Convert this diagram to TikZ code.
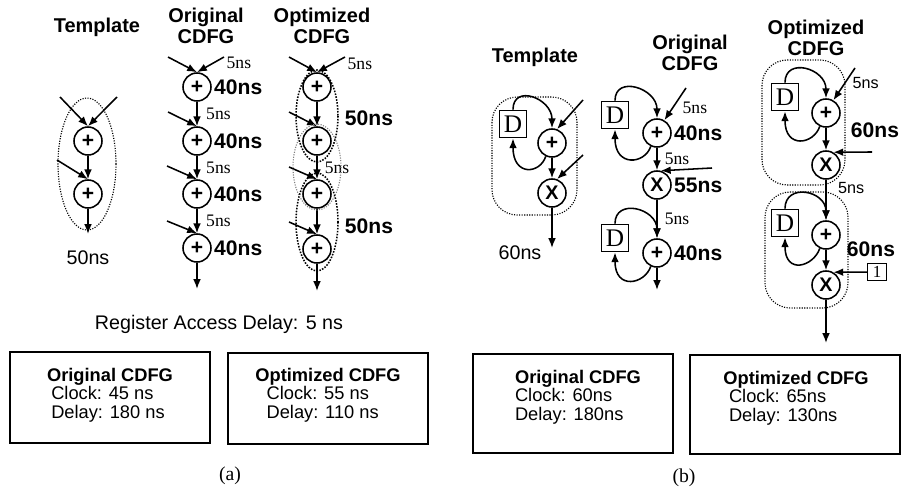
\documentclass[tikz,border=0pt]{standalone}
\usepackage{fontspec}
\setmainfont{Liberation Sans}
\newfontfamily\serifnum{Liberation Serif}
\usetikzlibrary{positioning}
\usetikzlibrary{arrows.meta}

\begin{document}
\begin{tikzpicture}[x=0.025cm, y=-0.025cm,
    adder/.style={draw, circle, line width=1.1pt, minimum size=0.7cm, inner sep=0pt, font=\bfseries\fontsize{15}{15}\selectfont},
    mult/.style={adder, font=\bfseries\fontsize{14}{14}\selectfont},
    reg/.style={draw, rectangle, line width=1.1pt, minimum size=0.68cm, inner sep=0pt, font=\serifnum\fontsize{18}{18}\selectfont},
    wire/.style={line width=1.1pt, -{Latex[length=7pt,width=5.5pt]}},
    group/.style={densely dotted, line width=0.8pt},
    title/.style={align=center, font=\bfseries\fontsize{14.2}{15}\selectfont},
    delay/.style={inner sep=0.5pt, font=\bfseries\fontsize{15}{15}\selectfont},
    plain/.style={font=\fontsize{14}{15}\selectfont},
    small/.style={inner sep=1pt, font=\fontsize{11.5}{12}\selectfont},
    regdelay/.style={inner sep=1pt, font=\serifnum\fontsize{12.5}{12}\selectfont},
    panel/.style={draw, line width=1.1pt, minimum width=5cm},
    stats/.style={align=left, font=\fontsize{13}{13.2}\selectfont},
    caption/.style={font=\serifnum\fontsize{14}{16}\selectfont}]

\useasboundingbox (0,0) rectangle (904,493);

% ---------- (a) chain of adders ----------
% template
\node[title] (tmpla) at (97,27) {Template};
\node[adder] (ta1) at (88,141) {+};
\node[adder] (ta2) at (88,194) {+};
\coordinate (ta1l) at (60,97);
\coordinate (ta1r) at (117,97);
\coordinate (ta2l) at (57,160);
\coordinate (taout) at (88,234);
\draw[wire] (ta1l) -- (ta1.north);
\draw[wire] (ta1r) -- (ta1.north);
\draw[wire] (ta2l) -- (ta2.north);
\draw[wire] (ta1) -- (ta2);
\draw[wire] (ta2) -- (taout);
\draw[group] (87,164) ellipse [x radius=29, y radius=66];
\node[plain] (tadelay) at (88,258) {50ns};

% original CDFG
\node[title] (origa) at (206,26) {Original\\CDFG};
\node[adder] (oa1) at (197,87) {+};
\node[adder] (oa2) at (197,141) {+};
\node[adder] (oa3) at (197,194) {+};
\node[adder] (oa4) at (197,248) {+};
\coordinate (oa1l) at (168,57);
\coordinate (oa1r) at (224,57);
\coordinate (oa2l) at (168,112);
\coordinate (oa3l) at (167,166);
\coordinate (oa4l) at (167,221);
\coordinate (oaout) at (197,289);
\draw[wire] (oa1l) -- (oa1.north);
\draw[wire] (oa1r) -- (oa1.north);
\node[regdelay, anchor=west] (oain) at (225,63) {5ns};
\foreach \n in {2,3,4}
    \draw[wire] (oa\n l) -- (oa\n.north);
\draw[wire] (oa1) -- node[regdelay, right=5pt] {5ns} (oa2);
\draw[wire] (oa2) -- node[regdelay, right=5pt] {5ns} (oa3);
\draw[wire] (oa3) -- node[regdelay, right=5pt] {5ns} (oa4);
\draw[wire] (oa4) -- (oaout);
\foreach \n in {1,...,4}
    \node[delay, right=1pt of oa\n] (oa\n t) {40ns};

% optimized CDFG
\node[title] (opta) at (322,26) {Optimized\\CDFG};
\node[adder] (pa1) at (317,87) {+};
\node[adder] (pa2) at (317,141) {+};
\node[adder] (pa3) at (317,194) {+};
\node[adder] (pa4) at (317,249) {+};
\coordinate (pa1l) at (289,57);
\coordinate (pa1r) at (345,57);
\coordinate (pa2l) at (289,112);
\coordinate (pa3l) at (289,167);
\coordinate (pa4l) at (289,222);
\coordinate (paout) at (317,291);
\draw[wire] (pa1l) -- (pa1.north);
\draw[wire] (pa1r) -- (pa1.north);
\node[regdelay, anchor=west] (pain) at (346,64) {5ns};
\foreach \n in {2,3,4}
    \draw[wire] (pa\n l) -- (pa\n.north);
\draw[wire] (pa1) -- (pa2);
\draw[wire] (pa2) -- node[regdelay, right=4pt] {5ns} (pa3);
\draw[wire] (pa3) -- (pa4);
\draw[wire] (pa4) -- (paout);
\draw[group, line width=1.1pt] (317,116) ellipse [x radius=21, y radius=46];
\draw[group, line width=1.1pt] (317,222) ellipse [x radius=21, y radius=49];
\draw[group, gray] (317,167) ellipse [x radius=24, y radius=43];
\node[delay, anchor=west] (pa12t) at (344,118) {50ns};
\node[delay, anchor=west] (pa34t) at (344,226) {50ns};

\node[plain] (regacc) at (219,324) {Register Access Delay: 5 ns};

\node[panel, minimum height=2.275cm] (boxoa) at (110,397.5) {};
\node[panel, minimum height=2.275cm] (boxpa) at (328,398.5) {};
\node[stats] (statoa) at (110,395) {\textbf{Original CDFG}\\\hspace*{3pt}Clock: 45 ns\\\hspace*{3pt}Delay: 180 ns};
\node[stats] (statpa) at (328,395) {\textbf{Optimized CDFG}\\\hspace*{8pt}Clock: 55 ns\\\hspace*{8pt}Delay: 110 ns};
\node[caption] (capa) at (230,476) {(a)};

% ---------- (b) adder with feedback register ----------
% template
\node[title] (tmplb) at (535,57) {Template};
\node[reg] (tbd) at (513,124) {D};
\node[adder] (tbp) at (552,143) {+};
\node[mult] (tbx) at (552,193) {X};
\coordinate (tbpin) at (583,100);
\coordinate (tbxin) at (583,155);
\coordinate (tbout) at (552,248);
\draw[wire] (tbpin) -- (tbp.70);
\draw[wire] (tbxin) -- (tbx.70);
\draw[wire] (tbp) -- (tbx);
\draw[wire] (tbx) -- (tbout);
\draw[group, rounded corners=18pt] (492,97) rectangle (577,215);
\node[plain] (tbdelay) at (520,253) {60ns};

% original CDFG
\node[title] (origb) at (690,53) {Original\\CDFG};
\node[reg] (obd1) at (615,115) {D};
\node[adder] (obp1) at (657,133) {+};
\node[mult] (obx) at (657,185) {X};
\node[reg] (obd2) at (615,238) {D};
\node[adder] (obp2) at (657,253) {+};
\coordinate (obpin) at (686,88);
\coordinate (obxin) at (712,168);
\coordinate (obout) at (657,290);
\draw[wire] (obpin) -- (obp1.60);
\node[regdelay, anchor=west] (obin) at (681,108) {5ns};
\draw[wire] (obp1) -- node[regdelay, right=4pt] {5ns} (obx);
\draw[wire] (obxin) -- (obx.75);
\draw[wire] (obx) -- node[regdelay, right=4pt] {5ns} (obp2);
\draw[wire] (obp2) -- (obout);
\node[delay, right=1pt of obp1] (obp1t) {40ns};
\node[delay, right=1pt of obx] (obxt) {55ns};
\node[delay, right=1pt of obp2] (obp2t) {40ns};

% optimized CDFG
\node[title] (optb) at (816,38) {Optimized\\CDFG};
\node[reg] (qbd1) at (785,97) {D};
\node[adder] (qbp1) at (826,113) {+};
\node[mult] (qbx1) at (826,165) {X};
\node[reg] (qbd2) at (785,223) {D};
\node[adder] (qbp2) at (826,235) {+};
\node[mult] (qbx2) at (826,285) {X};
\node[draw, line width=0.9pt, minimum width=0.48cm, minimum height=0.42cm, inner sep=0pt, font=\serifnum\fontsize{12}{12}\selectfont] (qbone) at (877,272) {1};
\coordinate (qbpin) at (855,68);
\coordinate (qbxin) at (872,152);
\coordinate (qbout) at (826,343);
\draw[wire] (qbpin) -- (qbp1.60);
\node[small, anchor=west] (qbin) at (851,83) {5ns};
\draw[wire] (qbp1) -- (qbx1);
\draw[wire] (qbxin) -- (qbx1.60);
\draw[wire] (qbx1) -- node[small, right=7pt, pos=0.2] {5ns} (qbp2);
\draw[wire] (qbp2) -- (qbx2);
\draw[wire] (qbone) -- (qbx2.60);
\draw[wire] (qbx2) -- (qbout);
\draw[group, rounded corners=18pt] (762,60) rectangle (845,185);
\draw[group, rounded corners=18pt] (765,192) rectangle (848,308);
\node[delay, anchor=west] (qb1t) at (850,130) {60ns};
\node[delay, anchor=west] (qb2t) at (846,249) {60ns};

% feedback through each register
\foreach \dd/\pp in {tbd/tbp, obd1/obp1, obd2/obp2, qbd1/qbp1, qbd2/qbp2} {
    \draw[wire] (\dd.north) .. controls +(0,-26) and +(0,-30) .. (\pp.north);
    \draw[wire] (\pp.-115) .. controls +(-6,18) and +(0,38) .. (\dd.south);
}

\node[panel, minimum height=2.475cm] (boxob) at (573,403.5) {};
\node[panel, minimum width=5.25cm, minimum height=2.475cm] (boxqb) at (795,404.5) {};
\node[stats] (statob) at (578,397) {\textbf{Original CDFG}\\Clock: 60ns\\Delay: 180ns};
\node[stats] (statqb) at (796,398) {\textbf{Optimized CDFG}\\\hspace*{4pt}Clock: 65ns\\\hspace*{4pt}Delay: 130ns};
\node[caption] (capb) at (684,478) {(b)};

\end{tikzpicture}
\end{document}
